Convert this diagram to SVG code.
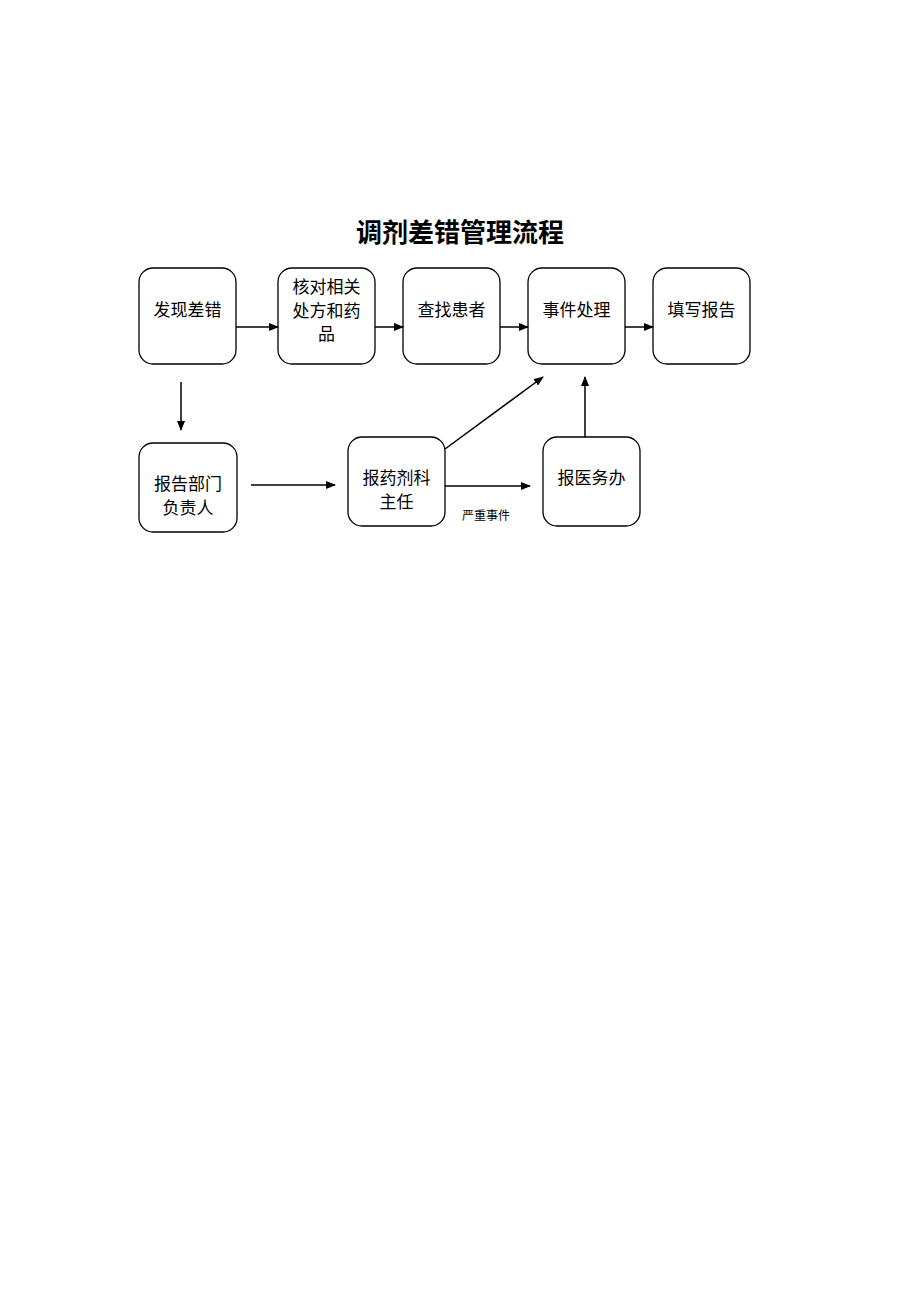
<svg xmlns="http://www.w3.org/2000/svg" width="920" height="1302" viewBox="0 0 920 1302">
<style>
.b{fill:#fff;stroke:#000;stroke-width:1.3}
.t{font-family:"Liberation Sans","Noto Sans CJK SC",sans-serif;font-size:17px;text-anchor:middle;fill:#000}
.c{stroke:#000;stroke-width:1.5;fill:none;marker-end:url(#a)}
</style>
<defs><marker id="a" markerWidth="10" markerHeight="8" refX="9" refY="4" orient="auto" markerUnits="userSpaceOnUse"><path d="M0,0L10,4L0,8z" fill="#000"/></marker></defs>
<rect width="920" height="1302" fill="#fff"/>
<text x="460" y="242" style="font-family:'Liberation Sans','Noto Sans CJK SC',sans-serif;font-size:26px;text-anchor:middle;font-weight:bold">调剂差错管理流程</text>
<g id="n1"><rect class="b" x="139" y="268" width="97" height="96" rx="14"/><text class="t" x="187.5" y="316">发现差错</text></g>
<g id="n2"><rect class="b" x="278" y="268" width="97" height="96" rx="14"/><text class="t" x="326.5" y="293">核对相关</text><text class="t" x="326.5" y="317">处方和药</text><text class="t" x="326.5" y="340">品</text></g>
<g id="n3"><rect class="b" x="403" y="268" width="97" height="96" rx="14"/><text class="t" x="451.5" y="316">查找患者</text></g>
<g id="n4"><rect class="b" x="528" y="268" width="97" height="96" rx="14"/><text class="t" x="576.5" y="316">事件处理</text></g>
<g id="n5"><rect class="b" x="653" y="268" width="97" height="96" rx="14"/><text class="t" x="701.5" y="316">填写报告</text></g>
<g id="n6"><rect class="b" x="139" y="443" width="98" height="89" rx="14"/><text class="t" x="188" y="490">报告部门</text><text class="t" x="188" y="514">负责人</text></g>
<g id="n7"><rect class="b" x="348" y="437" width="97" height="89" rx="14"/><text class="t" x="396.5" y="484">报药剂科</text><text class="t" x="396.5" y="508">主任</text></g>
<g id="n8"><rect class="b" x="543" y="437" width="97" height="89" rx="14"/><text class="t" x="591.5" y="484">报医务办</text></g>
<g id="edges">
<line class="c" x1="236" y1="327" x2="278" y2="327"/>
<line class="c" x1="375" y1="327" x2="403" y2="327"/>
<line class="c" x1="500" y1="327" x2="528" y2="327"/>
<line class="c" x1="625" y1="327" x2="653" y2="327"/>
<line class="c" x1="181" y1="382" x2="181" y2="430"/>
<line class="c" x1="251" y1="485" x2="335" y2="485"/>
<line class="c" x1="445" y1="486" x2="530" y2="486"/>
<line class="c" x1="585" y1="437" x2="585" y2="377"/>
<line class="c" x1="445" y1="449" x2="543" y2="377"/>
<text x="486" y="520" style="font-family:'Liberation Serif','Noto Sans CJK SC',serif;font-size:12px;text-anchor:middle">严重事件</text>
</g>
</svg>
